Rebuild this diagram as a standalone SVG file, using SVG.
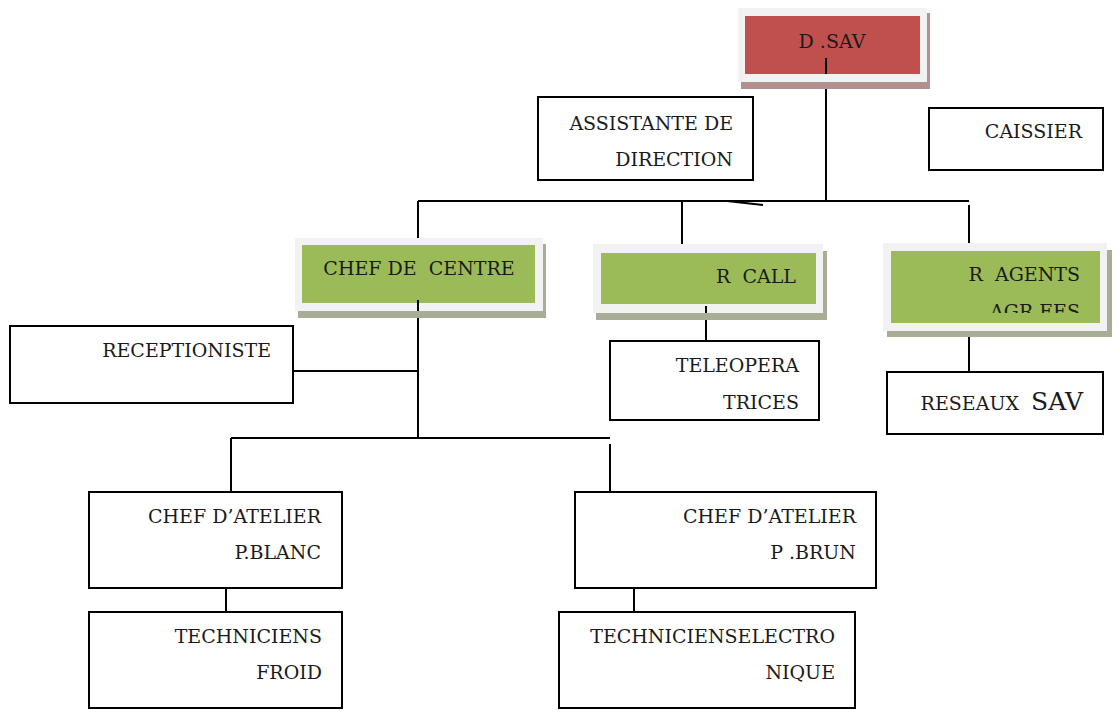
<svg xmlns="http://www.w3.org/2000/svg" width="1120" height="720" viewBox="0 0 1120 720">
  <style>
    .box { fill: #ffffff; stroke: #000000; stroke-width: 2; }
    .frame { fill: #f2f2f2; }
    .red { fill: #c0504d; }
    .green { fill: #9bbb59; }
    .sh-red { fill: #b3908f; }
    .sh-green { fill: #a7ae95; }
    text { font-family: 'DejaVu Serif', 'Liberation Serif', serif; font-size: 19px; fill: #1a1a1a; text-anchor: end; white-space: pre; }
    .mid { text-anchor: middle; }
    .line { stroke: #000000; stroke-width: 2; fill: none; }
  </style>
  <defs>
    <clipPath id="agentsClip">
      <rect x="891" y="251" width="209" height="62"/>
    </clipPath>
  </defs>
  <rect width="1120" height="720" fill="#ffffff"/>

  <!-- connectors -->
  <g id="connectors">
    <path class="line" d="M826 58 V201"/>
    <path class="line" d="M418 201 H969"/>
    <path class="line" d="M727 201 L763 205"/>
    <path class="line" d="M418 201 V240"/>
    <path class="line" d="M682 201 V246"/>
    <path class="line" d="M969 205 V245"/>
    <path class="line" d="M706 306 V341"/>
    <path class="line" d="M969 330 V372"/>
    <path class="line" d="M418 300 V438"/>
    <path class="line" d="M293 371 H418"/>
    <path class="line" d="M231 438 H610"/>
    <path class="line" d="M231 438 V492"/>
    <path class="line" d="M610 444 V492"/>
    <path class="line" d="M226 588 V612"/>
    <path class="line" d="M634 588 V612"/>
  </g>

  <!-- D .SAV -->
  <g id="n-dsav">
    <rect class="sh-red" x="741" y="13" width="189" height="76"/>
    <rect class="frame" x="738" y="8" width="189" height="74"/>
    <rect class="red" x="745" y="16" width="175" height="58"/>
    <path class="line" d="M826 58 V74"/>
    <text class="mid" x="832" y="48" xml:space="preserve">D .SAV</text>
  </g>

  <!-- ASSISTANTE DE DIRECTION -->
  <g id="n-assistante">
    <rect class="box" x="538" y="97" width="215" height="83"/>
    <text x="733" y="130">ASSISTANTE DE</text>
    <text x="733" y="166">DIRECTION</text>
  </g>

  <!-- CAISSIER -->
  <g id="n-caissier">
    <rect class="box" x="929" y="108" width="174" height="62"/>
    <text x="1082" y="138">CAISSIER</text>
  </g>

  <!-- CHEF DE CENTRE -->
  <g id="n-chef-centre">
    <rect class="sh-green" x="298" y="244" width="248" height="74"/>
    <rect class="frame" x="295" y="238" width="248" height="73"/>
    <rect class="green" x="302" y="245" width="233" height="58"/>
    <path class="line" d="M418 300 V311"/>
    <text class="mid" x="419" y="275" xml:space="preserve">CHEF DE  CENTRE</text>
  </g>

  <!-- R CALL -->
  <g id="n-rcall">
    <rect class="sh-green" x="596" y="251" width="231" height="69"/>
    <rect class="frame" x="593" y="244" width="230" height="69"/>
    <rect class="green" x="601" y="253" width="215" height="51"/>
    <path class="line" d="M706 306 V313"/>
    <text x="796" y="283" xml:space="preserve">R  CALL</text>
  </g>

  <!-- R AGENTS AGREES -->
  <g id="n-ragents">
    <rect class="sh-green" x="887" y="250" width="225" height="87"/>
    <rect class="frame" x="883" y="243" width="224" height="88"/>
    <rect class="green" x="891" y="251" width="209" height="72"/>
    <text x="1080" y="281" xml:space="preserve">R  AGENTS</text>
    <text x="1080" y="318" clip-path="url(#agentsClip)" xml:space="preserve">AGR EES</text>
  </g>

  <!-- RECEPTIONISTE -->
  <g id="n-receptioniste">
    <rect class="box" x="10" y="326" width="283" height="77"/>
    <text x="271" y="357">RECEPTIONISTE</text>
  </g>

  <!-- TELEOPERATRICES -->
  <g id="n-teleoperatrices">
    <rect class="box" x="610" y="341" width="209" height="79"/>
    <text x="799" y="372">TELEOPERA</text>
    <text x="799" y="409">TRICES</text>
  </g>

  <!-- RESEAUX SAV -->
  <g id="n-reseaux">
    <rect class="box" x="887" y="372" width="216" height="62"/>
    <text x="1083" y="410" xml:space="preserve"><tspan>RESEAUX  </tspan><tspan font-size="25">SAV</tspan></text>
  </g>

  <!-- CHEF D'ATELIER P.BLANC -->
  <g id="n-atelier-blanc">
    <rect class="box" x="89" y="492" width="253" height="96"/>
    <text x="321" y="523">CHEF D’ATELIER</text>
    <text x="321" y="559">P.BLANC</text>
  </g>

  <!-- TECHNICIENS FROID -->
  <g id="n-tech-froid">
    <rect class="box" x="89" y="612" width="253" height="96"/>
    <text x="322" y="643">TECHNICIENS</text>
    <text x="322" y="679">FROID</text>
  </g>

  <!-- CHEF D'ATELIER P.BRUN -->
  <g id="n-atelier-brun">
    <rect class="box" x="575" y="492" width="301" height="96"/>
    <text x="856" y="523">CHEF D’ATELIER</text>
    <text x="856" y="559" xml:space="preserve">P .BRUN</text>
  </g>

  <!-- TECHNICIENS ELECTRONIQUE -->
  <g id="n-tech-electro">
    <rect class="box" x="559" y="612" width="296" height="96"/>
    <text x="835" y="643">TECHNICIENSELECTRO</text>
    <text x="835" y="679">NIQUE</text>
  </g>
</svg>
